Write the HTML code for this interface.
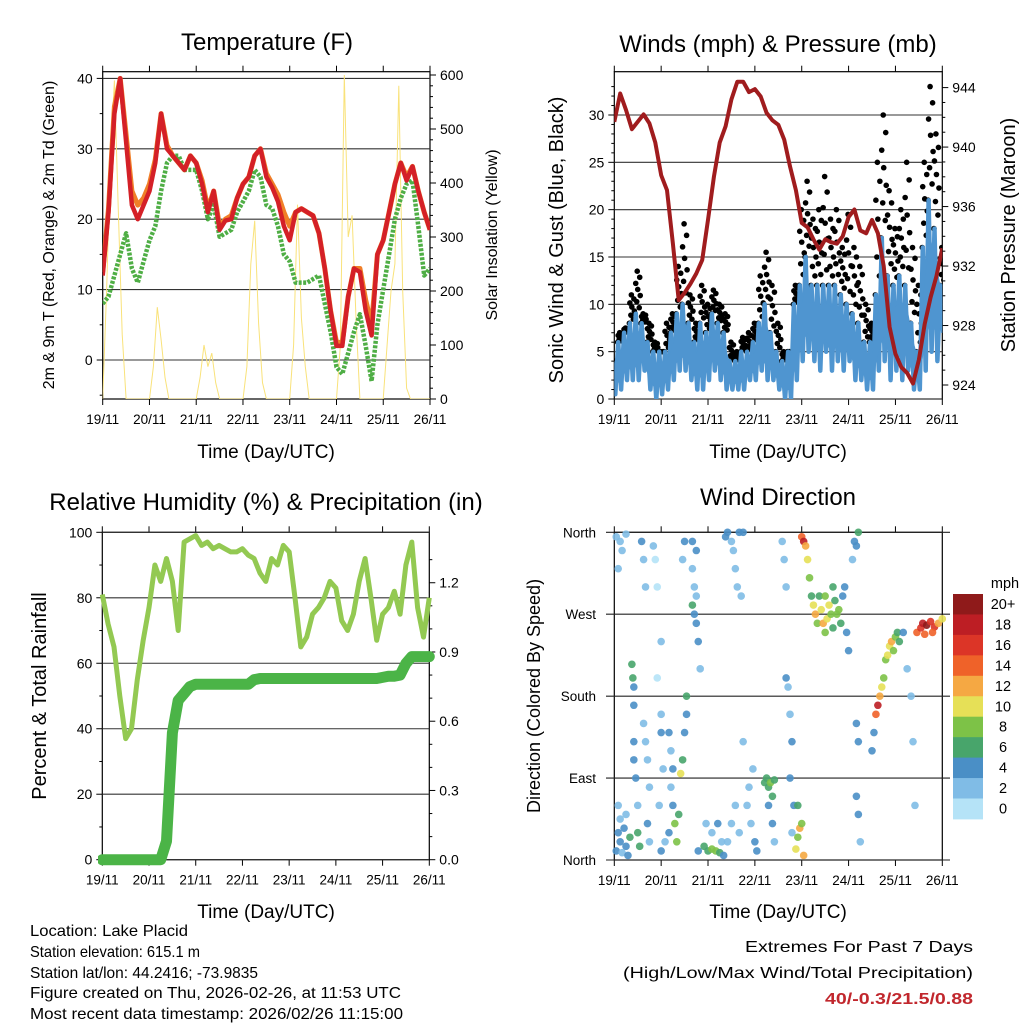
<!DOCTYPE html>
<html><head><meta charset="utf-8"><style>
html,body{margin:0;padding:0;background:#fff;}
svg{display:block;font-family:"Liberation Sans",Arial,sans-serif;}
</style></head><body>
<svg id="s" width="1024" height="1024" viewBox="0 0 1024 1024">
<defs>
<clipPath id="c1"><rect x="102.7" y="71.7" width="327.3" height="327.3"/></clipPath>
<clipPath id="c2"><rect x="614.3" y="71.7" width="328" height="327.3"/></clipPath>
<clipPath id="c3"><rect x="98" y="528" width="340" height="338"/></clipPath>
<clipPath id="c4"><rect x="606" y="526" width="340" height="340"/></clipPath>
</defs>
<g font-size="24" text-anchor="middle" fill="#000">
<text x="267" y="50">Temperature (F)</text>
<text x="778" y="52">Winds (mph) &amp; Pressure (mb)</text>
<text x="266" y="510">Relative Humidity (%) &amp; Precipitation (in)</text>
<text x="778" y="505">Wind Direction</text>
</g>
<g font-size="19" text-anchor="middle">
<text x="266" y="458">Time (Day/UTC)</text>
<text x="778" y="458">Time (Day/UTC)</text>
<text x="266" y="918">Time (Day/UTC)</text>
<text x="778" y="918">Time (Day/UTC)</text>
<text transform="translate(54,235) rotate(-90)" font-size="16">2m &amp; 9m T (Red, Orange) &amp; 2m Td (Green)</text>
<text transform="translate(497,235) rotate(-90)" font-size="16">Solar Insolation (Yellow)</text>
<text transform="translate(563,240) rotate(-90)" font-size="20">Sonic Wind &amp; Gust (Blue, Black)</text>
<text transform="translate(1015,235) rotate(-90)" font-size="20">Station Pressure (Maroon)</text>
<text transform="translate(46,696) rotate(-90)" font-size="20">Percent &amp; Total Rainfall</text>
<text transform="translate(540,696) rotate(-90)" font-size="18">Direction (Colored By Speed)</text>
</g>
<g font-size="16" fill="#000">
<text x="30" y="936" textLength="158" lengthAdjust="spacingAndGlyphs">Location: Lake Placid</text>
<text x="30" y="957" textLength="170" lengthAdjust="spacingAndGlyphs">Station elevation: 615.1 m</text>
<text x="30" y="978" textLength="228" lengthAdjust="spacingAndGlyphs">Station lat/lon: 44.2416; -73.9835</text>
<text x="30" y="998" textLength="371" lengthAdjust="spacingAndGlyphs">Figure created on Thu, 2026-02-26, at 11:53 UTC</text>
<text x="30" y="1019" textLength="373" lengthAdjust="spacingAndGlyphs">Most recent data timestamp: 2026/02/26 11:15:00</text>
<text x="973" y="952" text-anchor="end" textLength="228" lengthAdjust="spacingAndGlyphs">Extremes For Past 7 Days</text>
<text x="973" y="978" text-anchor="end" textLength="350" lengthAdjust="spacingAndGlyphs">(High/Low/Max Wind/Total Precipitation)</text>
<text x="973" y="1004" text-anchor="end" font-weight="bold" fill="#c1272d" textLength="148" lengthAdjust="spacingAndGlyphs">40/-0.3/21.5/0.88</text>
</g>
</svg>
<script>
// ---- data (3-hourly, hours 0..168) ----
const hours3 = [0,3,6,9,12,15,18,21,24,27,30,33,36,39,42,45,48,51,54,57,60,63,66,69,72,75,78,81,84,87,90,93,96,99,102,105,108,111,114,117,120,123,126,129,132,135,138,141,144,147,150,153,156,159,162,165,168];
const dayLabels = ["19/11","20/11","21/11","22/11","23/11","24/11","25/11","26/11"];
const tempRed = [12,21,35,40,31,22,20,22,24,28,35,30,29,28,27,29,28,25,21,24,18.5,19.8,20,23,25,26,29,30,26,24.5,22.5,19,17,21,21.5,21,20.5,18,13,7,2,2,9,13,12.5,7,3.5,15,17,21,25,28,25.5,27.5,24,21,18.5];
const tempOrange = [12.5,21.5,36,40,32,24,22,23,25,28.5,35,30.5,29,28,27,29,28,25.5,21.5,24,19,20,20.5,23,25,26,29,30,26.5,25,23.5,21,19,21,21.5,21,20.5,18,13,7,2.5,2.5,9,13,13,8.5,5,15,17,21,25,28,26,27.5,24,21,18.5];
const dewGreen = [8,9,12,15,18,13,11,14,17,19,24,28,29,29,27,27,27,24,20,22,17.5,18,18.5,21,22.5,24,27,26,22,21.5,19,15,14,11,11,11,11.5,12,8,4,-1,-2,1,4,6.5,2,-3,5,10,15,20,23,25,25.5,19,12,13];
const solarHours = [0,2,4,6,8,10,12,14,16,18,20,22,24,26,28,30,32,34,36,38,40,42,44,46,48,50,52,54,56,58,60,62,64,66,68,70,72,74,76,78,80,82,84,86,88,90,92,94,96,98,100,102,104,106,108,110,112,114,116,118,120,122,124,126,128,130,132,134,136,138,140,142,144,146,148,150,152,154,156,158,160,162,164,166,168];
const solar = [0,200,450,590,350,120,0,0,0,0,0,0,0,60,170,110,40,0,0,0,0,0,0,0,0,40,100,60,85,30,0,0,0,0,0,0,0,60,250,330,140,30,0,0,0,0,0,0,0,100,360,150,60,0,0,0,0,0,0,0,0,100,600,300,340,150,0,0,0,0,0,0,0,100,200,250,580,200,20,0,0,0,0,0,0];
const pressure = [941.7,943.6,942.5,941.2,941.7,942.2,941.6,940.3,938.1,937.1,933.5,929.7,930.2,930.8,931.5,932.4,935.1,938.0,940.3,941.4,943.2,944.4,944.4,943.7,943.9,943.4,942.3,941.8,941.5,940.5,938.7,937.1,934.9,934.6,933.8,933.1,933.8,933.6,933.5,934.0,935.3,935.8,934.4,934.2,935.1,934.2,932.0,927.9,926.1,925.2,924.8,924.1,925.7,928.1,929.9,931.3,933.2];
const windLow = [0.5,1,2,2,2,3,1,0,0.5,1,2,3,3,2,1,1,2,3,2,1,1,1,1,2,2,3,2,2,1,0,0,2,4,5,4,3,5,3,4,3,4,2,2,1,1,3,4,2,3,2,3,1,1,3,5,4,7];
const windHigh = [4,6,7,8,9,8,6,5,5,5,7,9,10,8,6,8,7,9,8,7,4,4,5,5,6,8,10,7,5,4,5,10,12,15,12,12,12,12,12,11,10,9,8,6,6,11,17,13,12,13,12,8,5,16,21,18,12];
const windGust = [4,7,7.5,11,13.5,9,8,6,5,8,9,14,18.5,11,8,12,10,11.5,10,9,6,5,6.5,7,8,13,15.5,12,8,5,5,12,20,23,19,20,23.5,19,20,16,19.5,16,14,10,8,25,30,22,18,20,25,16,12,25,33,28,16];
const rh = [81,72,65,50,37,40,55,67,77,90,85,92,85,70,97,98,99,96,97,95,96,95,94,94,95,93,92,87.5,85,92,90,96,94,80,65,68,75,77,80,85,83,73,70,75,85,92,80,67,75,77,82,75,90,97,77,68,80];
const precip = [0,0,0,0,0,0,0,0,0,0,0,0.08,0.55,0.69,0.72,0.75,0.76,0.76,0.76,0.76,0.76,0.76,0.76,0.76,0.76,0.76,0.78,0.785,0.785,0.785,0.785,0.785,0.785,0.785,0.785,0.785,0.785,0.785,0.785,0.785,0.785,0.785,0.785,0.785,0.785,0.785,0.785,0.785,0.79,0.795,0.795,0.8,0.85,0.88,0.88,0.88,0.88];
const dirHour = [1,2,3,4,5,6,7,8,3,6,2,1,3,4,6,2,9,9.5,10,10,10,10,11,12,13,12,14,15,16,15,16,17,18,17,18,20,21,22,24,24,25,23,24,26,22,24,28,29,30,30,31,32,33,29,28,34,35,36,37,37,36,35,40,41,42,43,42,41,40,42,40,44,43,46,48,50,52,54,56,50,53,55,47,57,58,60,61,62,63,64,60,62,64,58,65,66,68,69,70,72,73,66,71,77,78,79,80,81,82,79,81,82,86,87,88,88,89,90,91,90,92,91,93,94,95,96,97,94,96,97,98,99,100,101,102,103,104,105,106,107,108,109,110,111,112,113,114,115,116,117,118,112,108,119,120,122,123,124,125,124,125,126,125,124,134,135,136,137,133,132,138,139,140,141,142,143,144,145,146,148,150,152,153,154,155,157,158,160,162,164,166,168,159,163];
const dirDeg = [10,30,20,8,35,15,5,25,45,50,60,355,350,340,358,320,215,200,190,170,130,110,90,30,15,60,350,330,300,150,130,110,80,40,20,345,330,300,160,140,100,60,10,20,200,240,140,120,100,60,40,20,50,80,30,95,110,140,180,160,350,330,280,270,260,240,290,300,320,340,350,210,10,15,10,12,10,8,5,30,40,20,40,355,360,350,340,320,300,360,40,60,30,20,290,360,60,80,40,20,10,130,100,85,90,80,85,70,88,60,40,20,350,330,300,200,190,160,130,90,60,30,12,25,35,40,5,60,355,350,345,330,310,290,280,270,260,290,275,260,250,265,280,270,255,285,270,275,260,290,300,300,290,250,230,330,350,345,360,70,50,20,130,150,160,170,180,190,140,120,200,220,225,235,240,230,245,250,240,250,210,180,130,60,250,255,260,258,262,256,260,265,248,250];
const dirSpeed = [4,4,5,3,4,5,4,6,3,2,3,2,3,3,2,2,6,7,4,4,4,4,4,6,7,3,4,3,3,3,2,3,2,4,3,2,1,1,3,4,2,2,4,3,1,2,4,3,4,5,8,8,6,3,4,10,7,4,6,4,4,3,6,4,4,4,3,3,3,4,4,2,4,7,7,8,8,7,4,3,4,3,3,5,4,2,2,2,2,4,2,2,3,3,2,4,2,2,3,4,4,2,3,6,6,6,8,6,6,4,4,3,3,2,2,4,3,2,4,4,4,2,10,8,12,8,12,6,14,18,12,10,8,6,10,12,8,7,10,12,8,11,10,8,7,6,9,8,6,5,4,7,9,4,4,3,4,5,6,4,4,3,4,4,14,18,12,10,4,4,8,8,10,10,12,8,8,6,6,4,3,3,2,2,14,16,18,20,17,16,12,10,14,15];
const cbLabels = ["20+","18","16","14","12","10","8","6","4","2","0"];
const cbColors = ["#8f1a1a","#bd1e24","#dc3527","#ef6229","#f5a843","#e6e057","#7dc247","#48a56b","#4a8fc6","#80bce6","#b5e3f7"];

// ---- axis functions ----
const x1 = h => 102.7 + h * 327.3 / 168;
const yT = v => 360 - v * 7.04;
const yS = s => 399 - s * 0.54;
const x2 = h => 614.3 + h * 328 / 168;
const yW = v => 399 - v * 9.467;
const yP = p => 385 - (p - 924) * 14.87;
const x3 = h => 102.3 + h * 327 / 168;
const yRH = v => 859.7 - v * 3.274;
const yPr = v => 859.7 - v * 230.8;
const yD = d => 860 - d * 327.7 / 360;

const NS = "http://www.w3.org/2000/svg";
const svg = document.getElementById("s");
function mk(tag, attrs, parent, name) {
  const el = document.createElementNS(NS, tag);
  for (const k in attrs) el.setAttribute(k, attrs[k]);
  
  
  (parent || svg).appendChild(el);
  return el;
}
function group(name, clip) {
  const g = document.createElementNS(NS, "g");
  if (clip) g.setAttribute("clip-path", "url(#" + clip + ")");
  
  
  svg.appendChild(g);
  return g;
}
function pts(xs, ys, fx, fy) { return xs.map((h, i) => fx(h).toFixed(1) + "," + fy(ys[i]).toFixed(1)).join(" "); }

function frame(L, T, R, B, xf, prefix) {
  const g = group(prefix + "-axes");
  mk("rect", {x: L, y: T, width: R - L, height: B - T, fill: "none", stroke: "#000", "stroke-width": 1.2}, g, prefix + "-plot-frame");
  dayLabels.forEach((lab, i) => {
    const x = xf(i * 24);
    mk("line", {x1: x, y1: B, x2: x, y2: B + 6, stroke: "#000"}, g, prefix + "-x-tick");
    mk("line", {x1: x, y1: T, x2: x, y2: T - 6, stroke: "#000"}, g, prefix + "-x-tick-top");
    const t = mk("text", {x: x, y: B + 25, "font-size": 13.5, "text-anchor": "middle"}, g, prefix + "-x-tick-label");
    t.textContent = lab;
  });
  return g;
}
function yAxis(g, vals, yf, L, R, labels, side, prefix, grid, minor, fs) {
  vals.forEach((v, i) => {
    const y = yf(v);
    if (grid) mk("line", {x1: L, y1: y, x2: R, y2: y, stroke: "#333", "stroke-width": 1.1}, g, prefix + "-gridline");
    const x0 = side === "left" ? L : R;
    const d = side === "left" ? -6 : 6;
    mk("line", {x1: x0, y1: y, x2: x0 + d, y2: y, stroke: "#000"}, g, prefix + "-tick");
    const t = mk("text", {x: x0 + (side === "left" ? -10 : 10), y: y + 5, "font-size": fs || 14, "text-anchor": side === "left" ? "end" : "start"}, g, prefix + "-tick-label");
    t.textContent = labels[i];
  });
  (minor || []).forEach(v => {
    const y = yf(v); const x0 = side === "left" ? L : R;
    mk("line", {x1: x0, y1: y, x2: x0 + (side === "left" ? -3 : 3), y2: y, stroke: "#000"}, g, prefix + "-minor-tick");
  });
}

// ---- Panel 1: temperature ----
const g1a = frame(102.7, 71.7, 430, 399, x1, "temp");
yAxis(g1a, [0,10,20,30,40], yT, 102.7, 430, ["0","10","20","30","40"], "left", "temp-y", true, [-5,5,15,25,35]);
yAxis(g1a, [0,100,200,300,400,500,600], yS, 102.7, 430, ["0","100","200","300","400","500","600"], "right", "solar-y", false, [20,40,60,80,120,140,160,180,220,240,260,280,320,340,360,380,420,440,460,480,520,540,560,580]);
const g1 = group("temp-series", "c1");
mk("polyline", {points: pts(solarHours, solar, x1, yS), fill: "none", stroke: "#f9e27a", "stroke-width": 1}, g1, "solar-line");
mk("polyline", {points: pts(hours3, tempOrange, x1, yT), fill: "none", stroke: "#f07f28", "stroke-width": 5, "stroke-linejoin": "round"}, g1, "temp-9m-line");
mk("polyline", {points: pts(hours3, dewGreen, x1, yT), fill: "none", stroke: "#4fae45", "stroke-width": 4.5, "stroke-dasharray": "3 1.5", "stroke-linejoin": "round"}, g1, "dewpoint-line");
mk("polyline", {points: pts(hours3, tempRed, x1, yT), fill: "none", stroke: "#d42027", "stroke-width": 4.5, "stroke-linejoin": "round"}, g1, "temp-2m-line");

// ---- Panel 2: wind & pressure ----
const g2a = frame(614.3, 71.7, 942.3, 399, x2, "wind");
yAxis(g2a, [0,5,10,15,20,25,30], yW, 614.3, 942.3, ["0","5","10","15","20","25","30"], "left", "wind-y", true, [1,2,3,4,6,7,8,9,11,12,13,14,16,17,18,19,21,22,23,24,26,27,28,29,31,32,33]);
yAxis(g2a, [924,928,932,936,940,944], yP, 614.3, 942.3, ["924","928","932","936","940","944"], "right", "pressure-y", false, [925,926,927,929,930,931,933,934,935,937,938,939,941,942,943]);
const g2 = group("wind-series", "c2");
const offs = [-2.5, 1.5, -1, 2.5, 0, -2, 2, -0.5];
hours3.forEach((h, i) => {
  for (let k = 0; k < 8; k++) {
    const v = windHigh[i] + (windGust[i] - windHigh[i]) * k / 7;
    const c = mk("circle", {cx: x2(h) + offs[k], cy: yW(v), r: 2.8, fill: "#000"}, g2, "gust-dot");
  }
});
let zz = [];
hours3.forEach((h, i) => {
  zz.push(x2(h - 1).toFixed(1) + "," + yW(windHigh[i]).toFixed(1));
  zz.push(x2(h + 0.5).toFixed(1) + "," + yW(windLow[i]).toFixed(1));
});
mk("polyline", {points: zz.join(" "), fill: "none", stroke: "#4f95d0", "stroke-width": 4.5, "stroke-linejoin": "round"}, g2, "wind-line");
const band = hours3.map((h, i) => x2(h).toFixed(1) + "," + yW(windLow[i] + (windHigh[i] - windLow[i]) * 0.75).toFixed(1)).concat(hours3.slice().reverse().map((h, j) => { const i = hours3.length - 1 - j; return x2(h).toFixed(1) + "," + yW(windLow[i] + (windHigh[i] - windLow[i]) * 0.2).toFixed(1); })).join(" ");
mk("polygon", {points: band, fill: "#4f95d0", stroke: "none"}, g2, "wind-band");
mk("polyline", {points: pts(hours3, pressure, x2, yP), fill: "none", stroke: "#a01c1e", "stroke-width": 4, "stroke-linejoin": "round"}, g2, "pressure-line");

// ---- Panel 3: RH & precip ----
const g3a = frame(102.3, 532.3, 429.3, 859.7, x3, "rh");
yAxis(g3a, [0,20,40,60,80,100], yRH, 102.3, 429.3, ["0","20","40","60","80","100"], "left", "rh-y", true, [10,30,50,70,90]);
yAxis(g3a, [0,0.3,0.6,0.9,1.2], yPr, 102.3, 429.3, ["0.0","0.3","0.6","0.9","1.2"], "right", "precip-y", false, [0.1,0.2,0.4,0.5,0.7,0.8,1.0,1.1,1.3]);
const g3 = group("rh-series", "c3");
mk("polyline", {points: pts(hours3, rh, x3, yRH), fill: "none", stroke: "#93c952", "stroke-width": 5, "stroke-linejoin": "round"}, g3, "rh-line");
mk("polyline", {points: pts(hours3, precip, x3, yPr), fill: "none", stroke: "#4bb447", "stroke-width": 11, "stroke-linejoin": "round", "stroke-linecap": "round"}, g3, "precip-line");

// ---- Panel 4: wind direction ----
const g4a = frame(614.3, 532.3, 942.3, 860, x2, "dir");
const dirVals = [0,90,180,270,360], dirLabs = ["North","East","South","West","North"];
dirVals.forEach((d, i) => {
  const y = yD(d);
  mk("line", {x1: 606, y1: y, x2: 950, y2: y, stroke: "#222", "stroke-width": 1.1}, g4a, "dir-gridline");
  const t = mk("text", {x: 596, y: y + 5, "font-size": 13.5, "text-anchor": "end"}, g4a, "dir-tick-label");
  t.textContent = dirLabs[i];
});
const g4 = group("dir-points", "c4");
function spColor(s) { const b = Math.min(10, Math.floor(s / 2)); return cbColors[10 - b]; }
dirHour.forEach((h, i) => {
  const c = mk("circle", {cx: x2(h), cy: yD(dirDeg[i]), r: 3.8, fill: spColor(dirSpeed[i]), "fill-opacity": 0.9}, g4, "dir-point");
});
const gcb = group("colorbar");
cbLabels.forEach((lab, i) => {
  mk("rect", {x: 953, y: 594 + i * 20.45, width: 30, height: 20.9, fill: cbColors[i]}, gcb, "colorbar-box");
  const t = mk("text", {x: 1003, y: 609 + i * 20.45, "font-size": 14.5, "text-anchor": "middle"}, gcb, "colorbar-label");
  t.textContent = lab;
});
const cbt = mk("text", {x: 1005, y: 588, "font-size": 14.5, "text-anchor": "middle"}, gcb, "colorbar-title");
cbt.textContent = "mph";
</script>
</body></html>
